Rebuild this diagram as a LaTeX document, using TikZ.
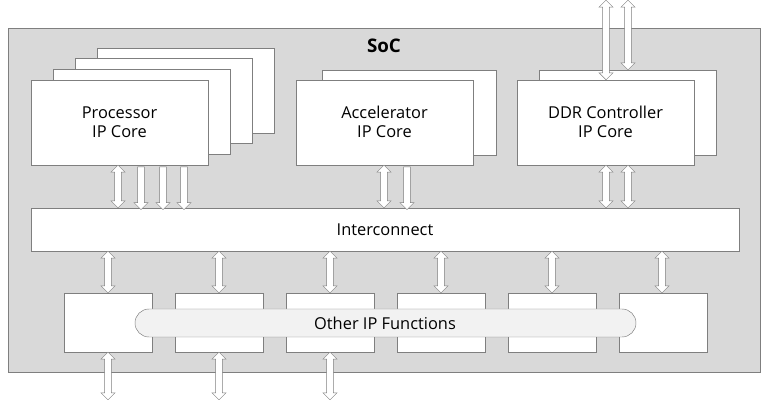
\documentclass[tikz,border=0pt]{standalone}
\usepackage{fontspec}
\setmainfont{Open Sans}
\usetikzlibrary{shapes.arrows, calc}

\definecolor{socgray}{HTML}{D9D9D9}
\definecolor{edgegray}{HTML}{7F7F7F}
\definecolor{pillgray}{HTML}{F2F2F2}

\tikzset{
  box/.style={draw=edgegray, fill=white},
  lbl/.style={font=\fontsize{14}{16}\selectfont, align=center},
  darr/.style={double arrow, draw=edgegray, fill=white, inner sep=2.6pt,
    minimum width=12pt, double arrow head extend=3pt, rotate=90},
  sarr/.style={single arrow, draw=edgegray, fill=white, inner sep=2.6pt,
    minimum width=12pt, single arrow head extend=3pt, rotate=-90},
}

% vertical arrows, x and y in pixels
\newcommand{\vdarr}[3]{\pgfmathsetmacro\len{0.85*(#3-#2)}
  \node[darr, minimum height=\len pt] at (#1,{(#2+#3)/2}) {};}
\newcommand{\vsarr}[3]{\pgfmathsetmacro\len{0.85*(#3-#2)}
  \node[sarr, minimum height=\len pt] at (#1,{(#2+#3)/2}) {};}

\begin{document}
\begin{tikzpicture}[x=0.03cm, y=-0.03cm]
  \useasboundingbox (0,0) rectangle (770,400);
  % SoC frame
  \draw[draw=edgegray, fill=socgray] (8,28) rectangle (760,372);
  \node[font=\fontsize{16}{18}\selectfont\bfseries] (soc) at (384,46) {SoC};

  % processor stack
  \foreach \i in {3,2,1} {
    \draw[box] ({31+22*\i},{80-10.7*\i}) rectangle ({208+22*\i},{165-10.7*\i});
  }
  \draw[box] (31,80) rectangle (208,165);
  \node[lbl] (proc) at (119.5,122) {Processor\\IP Core};

  % accelerator
  \draw[box] (322,70) rectangle (496,155);
  \draw[box] (296,80) rectangle (473,165);
  \node[lbl] (acc) at (384.5,122) {Accelerator\\IP Core};

  % DDR controller
  \draw[box] (539,70) rectangle (716,155);
  \draw[box] (517,80) rectangle (694,165);
  \node[lbl] (ddr) at (605.5,122) {DDR Controller\\IP Core};

  % interconnect
  \draw[box] (31,208) rectangle (739,251);
  \node[lbl] (ic) at (385,229.5) {Interconnect};

  % other IP blocks
  \foreach \x in {64,175,286,397,508,619} {
    \draw[box] (\x,293) rectangle ({\x+88},352);
  }
  \draw[draw=edgegray, fill=pillgray, rounded corners=14*0.03cm] (135,309) rectangle (636,337);
  \node[lbl] (other) at (385,323) {Other IP Functions};

  % arrows
  \vdarr{118}{165}{208}
  \foreach \x in {141,163,184} { \vsarr{\x}{165}{208} }
  \vdarr{384}{165}{208}
  \vsarr{407}{165}{208}
  \vdarr{606}{165}{208}
  \vdarr{628}{165}{208}
  \vdarr{606}{0}{80}
  \vdarr{628}{0}{70}
  \foreach \x in {108,219,330,441,552,662} { \vdarr{\x}{251}{293} }
  \foreach \x in {108,219,330} { \vdarr{\x}{352}{400} }
\end{tikzpicture}
\end{document}
